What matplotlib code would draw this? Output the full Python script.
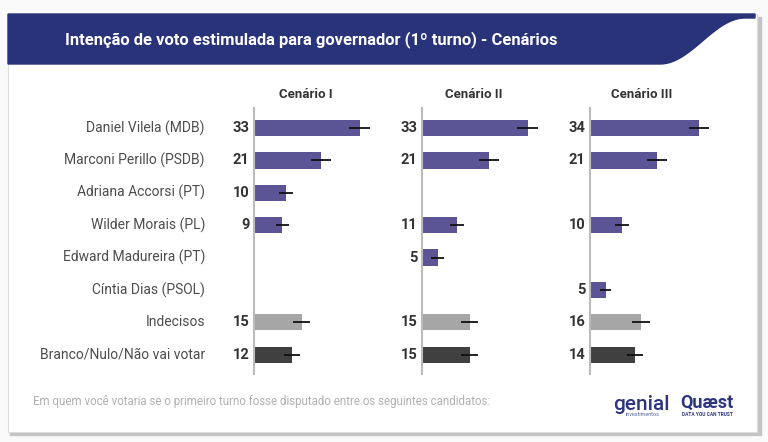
import numpy as np
import matplotlib
matplotlib.use('Agg')
import matplotlib.pyplot as plt
from matplotlib.patches import Rectangle, Polygon

plt.rcParams['font.family'] = ['Roboto', 'DejaVu Sans']

# data
candidates = ['Daniel Vilela (MDB)', 'Marconi Perillo (PSDB)', 'Adriana Accorsi (PT)',
              'Wilder Morais (PL)', 'Edward Madureira (PT)', 'Cíntia Dias (PSOL)',
              'Indecisos', 'Branco/Nulo/Não vai votar']
scenarios = ['Cenário I', 'Cenário II', 'Cenário III']
# None = candidate not in that scenario
cen1 = [33, 21, 10, 9, None, None, 15, 12]
cen2 = [33, 21, None, 11, 5, None, 15, 15]
cen3 = [34, 21, None, 10, None, 5, 16, 14]
err1 = [3.3, 3.0, 2.2, 2.1, None, None, 2.6, 2.5]
err2 = [3.3, 3.0, None, 2.2, 2.0, None, 2.6, 2.6]
err3 = [3.2, 3.0, None, 2.2, None, 1.8, 2.7, 2.5]
values = [cen1, cen2, cen3]
errors = [err1, err2, err3]

purple = '#5b5596'
light = '#a6a6a6'
dark = '#404040'
colors = [purple] * 6 + [light, dark]

W, H = 768, 442
fig = plt.figure(figsize=(W / 100, H / 100), dpi=100)
fig.patch.set_facecolor('#fafafa')

# background axes in pixel coordinates
bg = fig.add_axes([0, 0, 1, 1])
bg.set_xlim(0, W)
bg.set_ylim(H, 0)
bg.axis('off')

# panel with shadow
bg.add_patch(Rectangle((10, 17), 751, 418, color='#c4c4c4', zorder=0))
bg.add_patch(Rectangle((8, 14), 749, 418, facecolor='white', edgecolor='#dddddd', lw=0.8, zorder=1))

# header band with curved right end
xs = np.linspace(660, 745, 40)
curve_y = 64 - (64 - 18) * (1 - np.cos(np.pi * (xs - 660) / 85)) / 2
pts = [(8, 14), (755, 14), (755, 18)] + list(zip(xs[::-1], curve_y[::-1])) + [(8, 64)]
bg.add_patch(Polygon(pts, closed=True, color='#29337a', zorder=2))
bg.text(65, 40, 'Intenção de voto estimulada para governador (1º turno) - Cenários',
        color='white', fontsize=11.9, fontweight='bold', va='center', ha='left', zorder=3)

# footer
bg.text(33, 402, 'Em quem você votaria se o primeiro turno fosse disputado entre os seguintes candidatos:',
        color='#b0b0b0', fontsize=8.3, va='center', ha='left')
bg.text(641, 404, 'genial', color='#2e3580', fontsize=15, fontweight='medium', ha='center', va='center')
bg.text(643, 415, 'investimentos', color='#5a6aa0', fontsize=4, ha='center', va='center')
bg.text(707, 403, 'Quæst', color='#2e3580', fontsize=13, fontweight='bold', ha='center', va='center')
bg.text(707, 415, 'DATA YOU CAN TRUST', color='#2e3580', fontsize=3.5, fontweight='bold',
        ha='center', va='center')

# candidate labels
row_y = [128 + 32.4 * i for i in range(len(candidates))]
for name, yy in zip(candidates, row_y):
    bg.text(205, yy, name, color='#4d4d4d', fontsize=10, ha='right', va='center')

# scenario axes
scale = 3.22          # px per percentage point
bases = [253.5, 421.5, 589.5]
top, bot = 108, 374
for k in range(3):
    ax = fig.add_axes([bases[k] / W, (H - bot) / H, 130 / W, (bot - top) / H])
    ax.set_xlim(0, 130 / scale)
    ax.set_ylim(7 + (bot - row_y[-1]) / 32.4, -(row_y[0] - top) / 32.4)
    ax.patch.set_alpha(0)
    for s in ['top', 'right', 'bottom']:
        ax.spines[s].set_visible(False)
    ax.spines['left'].set_color('#bbbbbb')
    ax.spines['left'].set_linewidth(1.5)
    ax.set_xticks([])
    ax.set_yticks([])
    for i in range(len(candidates)):
        v = values[k][i]
        if v is None:
            continue
        ax.barh(i, v, height=0.5, color=colors[i], zorder=2)
        ax.errorbar(v, i, xerr=errors[k][i], color='#111111', lw=1.3, capsize=0, zorder=3)
        ax.text(-1.3, i, str(v), ha='right', va='center', fontsize=10.5,
                fontweight='bold', color='#333333', clip_on=False)
    bg.text(bases[k] + 52, 95, scenarios[k], ha='center', va='center', fontsize=9.5,
            fontweight='bold', color='#333333')

fig.savefig('out.png', dpi=100, facecolor=fig.get_facecolor())
